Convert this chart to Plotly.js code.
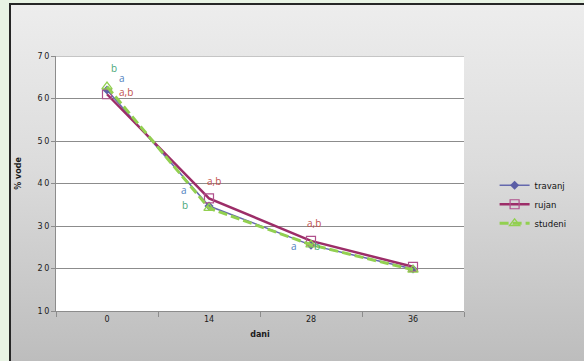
<!DOCTYPE html>
<html>
<head>
<meta charset="utf-8">
<script src="https://cdn.plot.ly/plotly-3.0.1.min.js"></script>
<style>
  html, body { margin: 0; padding: 0; }
  body { width: 584px; height: 361px; background: #e8f3e4; position: relative; overflow: hidden; }
  #frame {
    position: absolute; left: 9px; top: 3px; width: 575px; height: 358px;
    box-sizing: border-box; border-left: 2px solid #262626; border-top: 2px solid #262626;
    background: linear-gradient(to bottom, #ededed 0%, #dcdcdc 45%, #bdbdbd 100%);
  }
  #chart { position: absolute; left: 0; top: 0; width: 584px; height: 361px; }
</style>
</head>
<body>
<div id="frame"></div>
<div id="chart"></div>
<script>
// Days of storage (category axis)
const dani = ['0', '14', '28', '36'];

// Water content (%) per harvest month
const travanj = [62, 34.7, 25.5, 19.9];
const rujan   = [61, 36.5, 26.5, 20.4];
const studeni = [62.8, 34.2, 25.6, 19.7];

// Significance letters per day
const slovaTravanj = ['a', 'a', 'a', ''];
const slovaRujan   = ['a,b', 'a,b', 'a,b', ''];
const slovaStudeni = ['b', 'b', 'b', ''];

const yTicks = [10, 20, 30, 40, 50, 60, 70];

const boja = { travanj: '#6468ad', rujan: '#9c2d68', studeni: '#92d050' };
const bojaSlova = { travanj: '#4f81bd', rujan: '#c0504d', studeni: '#4aa87a' };

const traces = [
  {
    name: 'travanj', x: dani, y: travanj, type: 'scatter', mode: 'lines+markers',
    line: { color: boja.travanj, width: 1.5 },
    marker: { symbol: 'diamond', size: 7, color: '#5b5ea6' }
  },
  {
    name: 'rujan', x: dani, y: rujan, type: 'scatter', mode: 'lines+markers',
    line: { color: boja.rujan, width: 2.5 },
    marker: { symbol: 'square-open', size: 9, color: '#b0508c', line: { width: 1.2 } }
  },
  {
    name: 'studeni', x: dani, y: studeni, type: 'scatter', mode: 'lines+markers',
    line: { color: boja.studeni, width: 3, dash: '9px,4px' },
    marker: { symbol: 'triangle-up-open', size: 9, color: boja.studeni, line: { width: 1.3 } }
  }
];

// Letter offsets (px) around each point
const pomaci = {
  travanj: [[15, 12], [-25, 16], [-17, -1]],
  rujan:   [[19, 2], [5, 17], [3, 18]],
  studeni: [[7, 19], [-24, 3], [6, -1]]
};

const annotations = [];
function dodajSlova(niz, slova, kljuc) {
  slova.forEach((s, i) => {
    if (!s) return;
    annotations.push({
      // category axis: position by category index
      x: i, y: niz[i], xref: 'x', yref: 'y', text: s, showarrow: false,
      xshift: pomaci[kljuc][i][0], yshift: pomaci[kljuc][i][1],
      font: { family: 'Open Sans, sans-serif', size: 10, color: bojaSlova[kljuc] }
    });
  });
}
dodajSlova(studeni, slovaStudeni, 'studeni');
dodajSlova(travanj, slovaTravanj, 'travanj');
dodajSlova(rujan, slovaRujan, 'rujan');

// Y axis title
annotations.push({
  xref: 'paper', yref: 'paper', x: -0.092, y: 0.54, xanchor: 'center', yanchor: 'middle',
  text: '<b>% vode</b>', textangle: -90, showarrow: false,
  font: { family: 'DejaVu Sans, sans-serif', size: 8, color: '#1a1a1a' }
});

const layout = {
  width: 584, height: 361,
  margin: { l: 56, r: 113, t: 56, b: 50 },
  paper_bgcolor: 'rgba(0,0,0,0)',
  plot_bgcolor: '#ffffff',
  showlegend: true,
  legend: {
    x: 1.075, xanchor: 'left', y: 0.55, yanchor: 'top',
    bgcolor: 'rgba(0,0,0,0)', tracegroupgap: 0,
    font: { family: 'DejaVu Sans, sans-serif', size: 8.5, color: '#111' }
  },
  xaxis: {
    type: 'category', categoryarray: dani, range: [-0.5, 3.5],
    showgrid: false, showline: true, linecolor: '#8c8c8c', linewidth: 1,
    ticks: 'outside', tickson: 'boundaries', ticklen: 5, tickcolor: '#8c8c8c',
    tickfont: { family: 'DejaVu Sans, sans-serif', size: 8, color: '#1a1a1a' },
    title: { text: '<b>dani</b>', standoff: 8, font: { family: 'DejaVu Sans, sans-serif', size: 8, color: '#1a1a1a' } },
    fixedrange: true
  },
  yaxis: {
    range: [10, 70], tickvals: yTicks, ticktext: yTicks.map(v => String(v).split('').join('\u2009')),
    showgrid: true, gridcolor: '#8c8c8c', gridwidth: 1,
    showline: true, linecolor: '#8c8c8c', linewidth: 1, mirror: false,
    ticks: 'outside', ticklen: 4, tickcolor: '#8c8c8c',
    tickfont: { family: 'DejaVu Sans, sans-serif', size: 8, color: '#1a1a1a' },
    zeroline: false, fixedrange: true
  },
  shapes: [
    { type: 'line', xref: 'paper', yref: 'y', x0: 0, x1: 1, y0: 70, y1: 70, line: { color: '#8c8c8c', width: 1 } }
  ],
  annotations: annotations
};

Plotly.newPlot('chart', traces, layout, { displayModeBar: false, staticPlot: true });
</script>
</body>
</html>
